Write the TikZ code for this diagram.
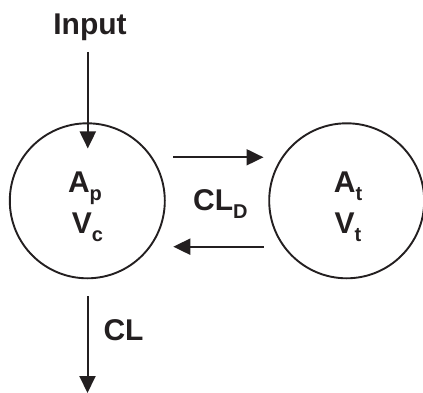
\documentclass[tikz,border=0pt]{standalone}
\usepackage{fontspec}
\setmainfont{Liberation Sans}
\usetikzlibrary{arrows.meta}
\definecolor{ink}{RGB}{35,31,32}
\newcommand\lowsub[1]{\raisebox{-8pt}{\fontsize{20}{20}\selectfont #1}}
\begin{document}
\begin{tikzpicture}[x=1pt,y=-1pt,
  lbl/.style={font=\fontsize{30}{36}\selectfont\bfseries, text=ink, inner sep=0pt, anchor=base},
  comp/.style={circle, draw=ink, line width=1.9pt, minimum size=155pt, inner sep=0pt},
  flow/.style={draw=ink, line width=2pt, -{Triangle[length=17pt,width=16pt]}}]
\useasboundingbox (0,0) rectangle (423,393);
% compartments
\node[comp] (central) at (87.3,200.8) {};
\node[comp] (tissue) at (346.7,200.8) {};
% labels
\node[lbl] (input) at (90,35) {Input};
\node[lbl] (ap) at (85,193) {A\lowsub{p}};
\node[lbl] (vc) at (87.5,233) {V\lowsub{c}};
\node[lbl] (at) at (348,193) {A\lowsub{t}};
\node[lbl] (vt) at (348,233) {V\lowsub{t}};
\node[lbl] (cld) at (220.4,210) {CL\lowsub{D}};
\node[lbl, anchor=base west] (cl) at (103.3,340) {CL};
% connector ends
\coordinate (inS) at (87.8,52);
\coordinate (inE) at (87.8,148.5);
\coordinate (toS) at (173.3,157.3);
\coordinate (toE) at (263.5,157.3);
\coordinate (frS) at (263.5,246.7);
\coordinate (frE) at (173.3,246.7);
\coordinate (clS) at (87.5,296);
\coordinate (clE) at (87.5,393);
% arrows
\draw[flow] (inS) -- (inE);
\draw[flow] (toS) -- (toE);
\draw[flow] (frS) -- (frE);
\draw[flow] (clS) -- (clE);
\end{tikzpicture}
\end{document}
